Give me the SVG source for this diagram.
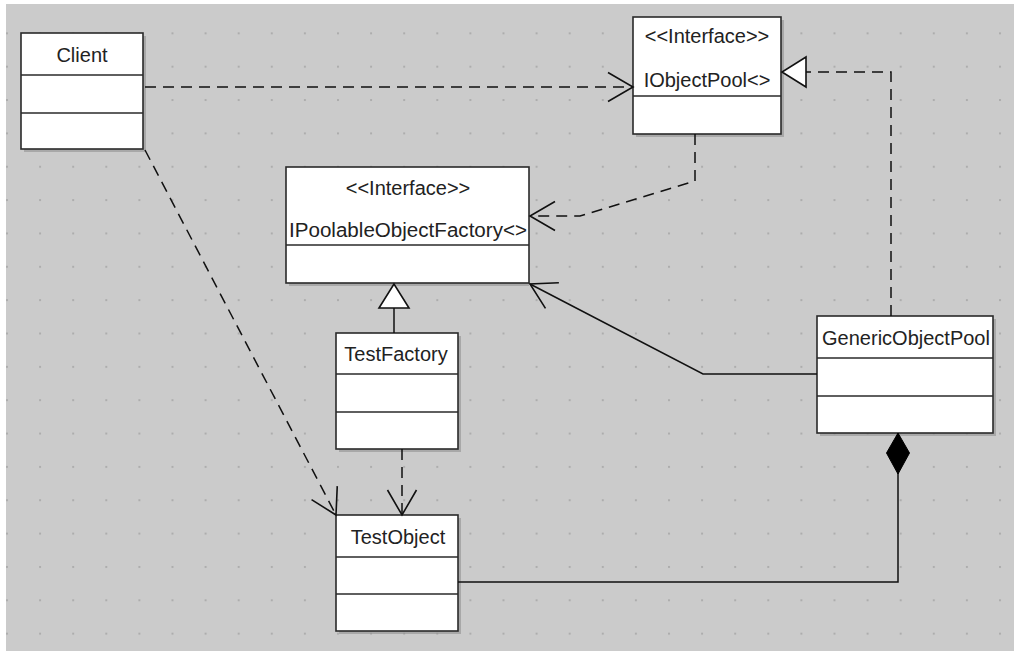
<svg xmlns="http://www.w3.org/2000/svg" width="1014" height="651" viewBox="0 0 1014 651">
<style>
.box{fill:#ffffff;stroke:#2a2a2a;stroke-width:1.6}
.shadow{fill:#8c8c8c;opacity:0.55}
.div{stroke:#2a2a2a;stroke-width:1.4}
.lbl{font-family:"Liberation Sans",Arial,sans-serif;font-size:20px;fill:#222;text-anchor:middle}
.dash{fill:none;stroke:#111;stroke-width:1.5;stroke-dasharray:11 7}
.solid{fill:none;stroke:#111;stroke-width:1.5}
</style>
<defs>
<pattern id="dots" x="6" y="-1" width="33.1" height="33.35" patternUnits="userSpaceOnUse">
<rect x="0" y="0" width="2" height="2" fill="#adadad"/>
</pattern>
<marker id="open" viewBox="-30 -17 34 34" refX="0" refY="0" markerWidth="34" markerHeight="34" markerUnits="userSpaceOnUse" orient="auto">
<path d="M-25,-14.5 L0,0 L-25,14.5" fill="none" stroke="#111" stroke-width="1.6"/>
</marker>
<marker id="tri" viewBox="-28 -18 32 36" refX="0" refY="0" markerWidth="32" markerHeight="36" markerUnits="userSpaceOnUse" orient="auto">
<path d="M0,0 L-24,-15 L-24,15 Z" fill="#ffffff" stroke="#111" stroke-width="1.6"/>
</marker>
<marker id="diamond" viewBox="-44 -14 48 28" refX="0" refY="0" markerWidth="48" markerHeight="28" markerUnits="userSpaceOnUse" orient="auto">
<path d="M0,0 L-20,-11.5 L-41,0 L-20,11.5 Z" fill="#000" stroke="#000" stroke-width="1"/>
</marker>
</defs>
<rect x="0" y="0" width="1014" height="651" fill="#ffffff"/>
<rect x="6" y="4" width="1008" height="647" fill="#cbcbcb"/>
<rect x="6" y="4" width="1008" height="647" fill="url(#dots)"/>

<g id="client">
<rect class="shadow" x="24" y="36" width="122" height="116"/>
<rect class="box" x="21" y="33" width="122" height="116"/>
<line class="div" x1="21" y1="75" x2="143" y2="75"/>
<line class="div" x1="21" y1="113" x2="143" y2="113"/>
<text class="lbl" x="82" y="62">Client</text>
</g>

<g id="iobjectpool">
<rect class="shadow" x="636" y="20" width="148" height="117"/>
<rect class="box" x="633" y="17" width="148" height="117"/>
<line class="div" x1="633" y1="96" x2="781" y2="96"/>
<text class="lbl" x="707" y="43">&lt;&lt;Interface&gt;&gt;</text>
<text class="lbl" x="707" y="87">IObjectPool&lt;&gt;</text>
</g>

<g id="ipoolableobjectfactory">
<rect class="shadow" x="289" y="170" width="240" height="116"/>
<rect class="box" x="286" y="167" width="243" height="116"/>
<line class="div" x1="286" y1="245" x2="529" y2="245"/>
<text class="lbl" x="408" y="195">&lt;&lt;Interface&gt;&gt;</text>
<text class="lbl" x="408" y="237" textLength="238" lengthAdjust="spacingAndGlyphs">IPoolableObjectFactory&lt;&gt;</text>
</g>

<g id="testfactory">
<rect class="shadow" x="339" y="336" width="122" height="116"/>
<rect class="box" x="336" y="333" width="122" height="116"/>
<line class="div" x1="336" y1="374" x2="458" y2="374"/>
<line class="div" x1="336" y1="412" x2="458" y2="412"/>
<text class="lbl" x="396" y="361">TestFactory</text>
</g>

<g id="genericobjectpool">
<rect class="shadow" x="820" y="319" width="176" height="117"/>
<rect class="box" x="817" y="316" width="176" height="117"/>
<line class="div" x1="817" y1="358" x2="993" y2="358"/>
<line class="div" x1="817" y1="396" x2="993" y2="396"/>
<text class="lbl" x="906" y="345">GenericObjectPool</text>
</g>

<g id="testobject">
<rect class="shadow" x="339" y="518" width="122" height="116"/>
<rect class="box" x="336" y="515" width="122" height="116"/>
<line class="div" x1="336" y1="557" x2="458" y2="557"/>
<line class="div" x1="336" y1="594" x2="458" y2="594"/>
<text class="lbl" x="398" y="544">TestObject</text>
</g>

<g id="connectors">
<path class="dash" d="M145,87 L633,87" marker-end="url(#open)"/>
<path class="dash" d="M145,150 L336,515" marker-end="url(#open)"/>
<path class="dash" d="M695,134 L695,181 L580,216 L530,216" marker-end="url(#open)"/>
<path class="dash" d="M891,316 L891,72 L782,72" marker-end="url(#tri)"/>
<path class="solid" d="M394,333 L394,284" marker-end="url(#tri)"/>
<path class="dash" d="M402,449 L402,515" marker-end="url(#open)"/>
<path class="solid" d="M817,374 L703,374 L530,284" marker-end="url(#open)"/>
<path class="solid" d="M458,582 L898,582 L898,433" marker-end="url(#diamond)"/>
</g>
</svg>
